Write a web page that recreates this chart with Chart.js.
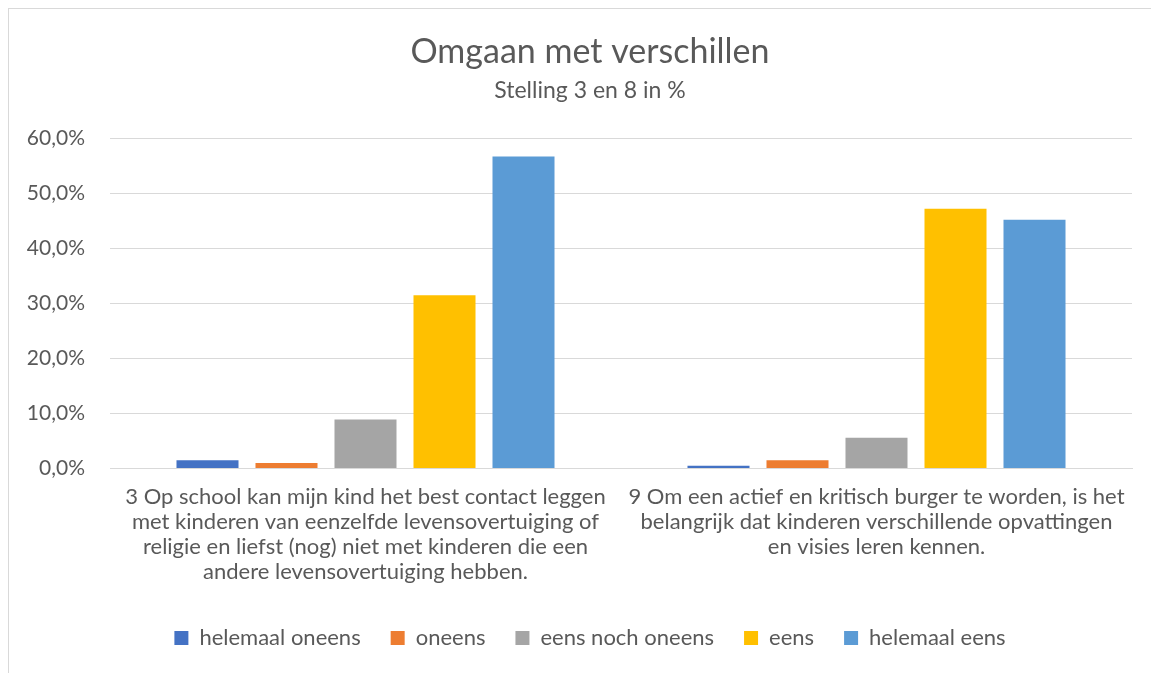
<!DOCTYPE html>
<html>
<head>
<meta charset="utf-8">
<script src="https://cdn.jsdelivr.net/npm/chart.js@4.4.0/dist/chart.umd.min.js"></script>
<style>
  body { margin: 0; background: #fff; overflow: hidden; }
  #frame { position: absolute; left: 8px; top: 8px; width: 1170px; height: 700px; border: 1px solid #d9d9d9; }
  #wrap { position: absolute; left: 8px; top: 0; width: 1164px; height: 680px; }
</style>
</head>
<body>
<div id="frame"></div>
<div id="wrap"><canvas id="chart"></canvas></div>
<script>
const categories = [
	["3 Op school kan mijn kind het best contact leggen", "met kinderen van eenzelfde levensovertuiging of", "religie en liefst (nog) niet met kinderen die een", "andere levensovertuiging hebben."],
	["9 Om een actief en kritisch burger te worden, is het", "belangrijk dat kinderen verschillende opvattingen", "en visies leren kennen."]
];
const seriesNames = ["helemaal oneens", "oneens", "eens noch oneens", "eens", "helemaal eens"];
const seriesColors = ["#4472C4", "#ED7D31", "#A5A5A5", "#FFC000", "#5B9BD5"];
const helemaalOneens = [1.5, 0.5];
const oneens = [1.0, 1.5];
const eensNochOneens = [8.9, 5.6];
const eens = [31.5, 47.2];
const helemaalEens = [56.7, 45.2];
const yTicks = [0, 10, 20, 30, 40, 50, 60];

const allSeries = [helemaalOneens, oneens, eensNochOneens, eens, helemaalEens];
const textColor = '#595959';
const fontFam = 'Lato, "Open Sans", sans-serif';

// y axis is narrow so title/legend stay centred; let its labels draw past its left edge
const unclipY = {
	id: 'unclipY',
	afterLayout(chart) {
		chart.scales.y.left = 0;
	}
};

const chart = new Chart(document.getElementById('chart'), {
	type: 'bar',
	data: {
		labels: categories,
		datasets: allSeries.map((vals, i) => ({
			label: seriesNames[i],
			data: vals,
			backgroundColor: seriesColors[i],
			barPercentage: 0.785,
			categoryPercentage: 0.773
		}))
	},
	options: {
		responsive: true,
		maintainAspectRatio: false,
		animation: false,
		layout: { padding: { top: 32, left: 40, right: 40, bottom: 21 } },
		plugins: {
			title: {
				display: true,
				text: 'Omgaan met verschillen',
				color: textColor,
				font: { family: fontFam, size: 34, weight: 'normal', lineHeight: 1.2 },
				padding: { top: 0, bottom: 0 }
			},
			subtitle: {
				display: true,
				text: 'Stelling 3 en 8 in %',
				color: textColor,
				font: { family: fontFam, size: 23, lineHeight: 1.2 },
				padding: { top: 4, bottom: 34 }
			},
			legend: {
				position: 'bottom',
				labels: {
					color: textColor,
					font: { family: fontFam, size: 22 },
					boxWidth: 14,
					boxHeight: 14,
					padding: 30
				}
			},
			tooltip: { enabled: false }
		},
		scales: {
			x: {
				grid: { display: false, drawTicks: false },
				border: { display: true, color: '#d9d9d9' },
				ticks: {
					color: textColor,
					font: { family: fontFam, size: 22, lineHeight: 1.14 },
					padding: 16,
					maxRotation: 0,
					autoSkip: false
				},
				afterFit: (scale) => { scale.height = 128.5; }
			},
			y: {
				min: 0,
				max: 60,
				afterBuildTicks: (scale) => { scale.ticks = yTicks.map(v => ({ value: v })); },
				grid: { color: '#d9d9d9', drawTicks: false },
				border: { display: false },
				ticks: {
					color: textColor,
					font: { family: fontFam, size: 21 },
					padding: 25,
					callback: (v) => v.toFixed(1).replace('.', ',') + '%'
				},
				afterFit: (scale) => { scale.width = 62; }
			}
		}
	},
	plugins: [unclipY]
});
</script>
</body>
</html>
